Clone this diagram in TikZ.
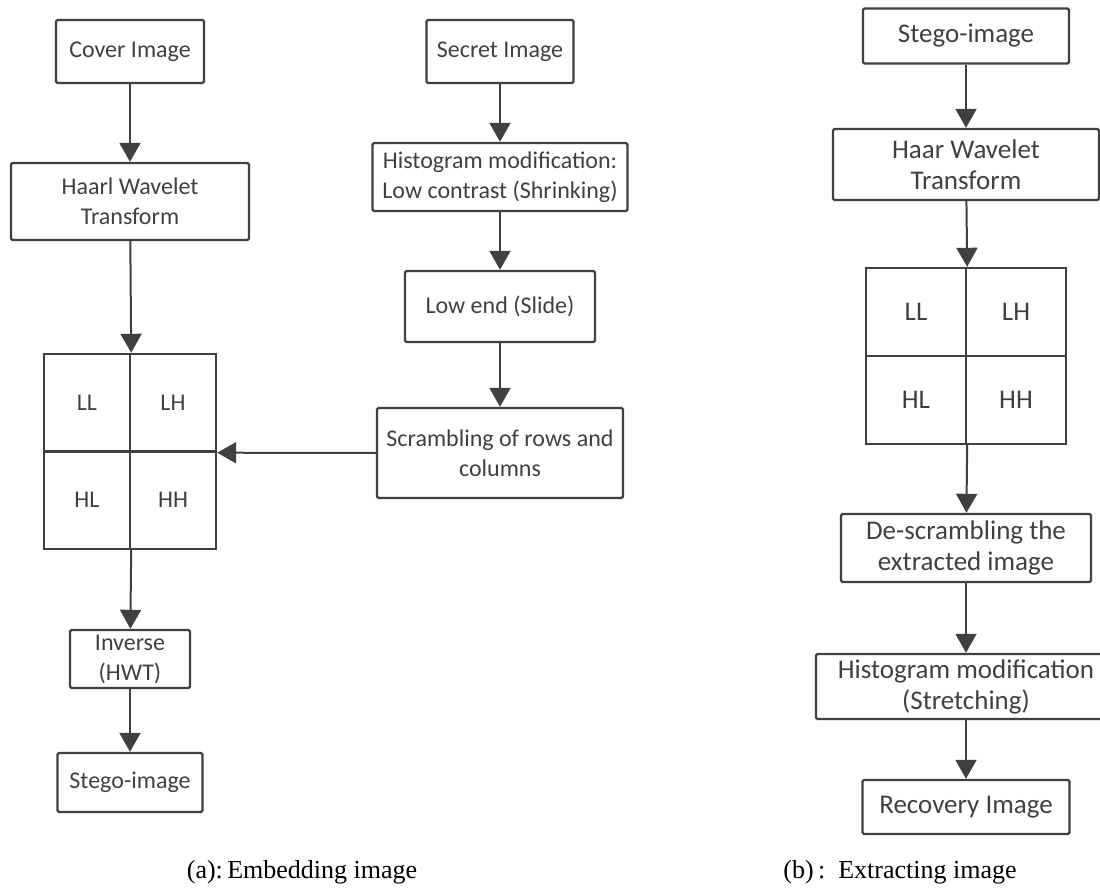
\documentclass[tikz,border=0pt]{standalone}
\usepackage{fontspec}
\setmainfont{Liberation Serif}
\newfontfamily\boxfont{Carlito}
\usetikzlibrary{arrows.meta}
\definecolor{ink}{HTML}{404040}
\tikzset{
	procbox/.style={draw=ink, line width=2.4pt, rounded corners=1.5pt, inner sep=0pt, align=center, text=ink, font=\boxfont\fontsize{24}{30}\selectfont},
	bigbox/.style={procbox, font=\boxfont\fontsize{27}{31}\selectfont},
	cella/.style={procbox, rounded corners=0pt, minimum width=86pt, minimum height=97.5pt},
	cellb/.style={bigbox, rounded corners=0pt, minimum width=100pt, minimum height=88pt},
	flow/.style={-{Triangle[length=19pt,width=21pt]}, draw=ink, line width=2pt},
	caption/.style={anchor=base, inner sep=0pt, font=\fontsize{26}{30}\selectfont}
}
\begin{document}
\begin{tikzpicture}[x=1pt, y=-1pt]
	\useasboundingbox (0,0) rectangle (1100,890);
	
	\node[procbox, minimum width=148pt, minimum height=63pt] (cover) at (130,51.5) {Cover Image};
	\node[procbox, minimum width=238pt, minimum height=77pt] (haarl) at (130,201.5) {Haarl Wavelet\\Transform};
	\node[cella] (all) at (87,402.75) {LL};
	\node[cella] (alh) at (173,402.75) {LH};
	\node[cella] (ahl) at (87,500.25) {HL};
	\node[cella] (ahh) at (173,500.25) {HH};
	\node[procbox, minimum width=120pt, minimum height=58pt] (inverse) at (130,659) {Inverse\\(HWT)};
	\node[procbox, minimum width=145pt, minimum height=59pt] (stegoa) at (130,782.5) {Stego-image};
	
	\node[procbox, minimum width=147pt, minimum height=63pt] (secret) at (500,51.5) {Secret Image};
	\node[procbox, minimum width=255pt, minimum height=68pt] (shrink) at (500,177) {Histogram modification:\\Low contrast (Shrinking)};
	\node[procbox, minimum width=190pt, minimum height=71pt] (slide) at (500,306.5) {Low end (Slide)};
	\node[procbox, minimum width=246pt, minimum height=90pt] (scramble) at (500,453) {Scrambling of rows and\\columns};
	
	\node[bigbox, minimum width=206pt, minimum height=55pt] (stegob) at (966,36) {Stego-image};
	\node[bigbox, minimum width=266pt, minimum height=71pt] (haar) at (966,164.5) {Haar Wavelet\\Transform};
	\node[cellb] (bll) at (916,312) {LL};
	\node[cellb] (blh) at (1016,312) {LH};
	\node[cellb] (bhl) at (916,400) {HL};
	\node[cellb] (bhh) at (1016,400) {HH};
	\node[bigbox, minimum width=250pt, minimum height=68pt] (descramble) at (966,548) {De-scrambling the\\extracted image};
	\node[bigbox, minimum width=300pt, minimum height=65pt] (stretch) at (966,686.5) {Histogram modification\\(Stretching)};
	\node[bigbox, minimum width=207pt, minimum height=54pt] (recovery) at (966,807) {Recovery Image};
	
	\draw[flow] (cover) -- (haarl);
	\draw[flow] (haarl) -- (all.north east);
	\draw[flow] (ahl.south east) -- (inverse);
	\draw[flow] (inverse) -- (stegoa);
	\draw[flow] (secret) -- (shrink);
	\draw[flow] (shrink) -- (slide);
	\draw[flow] (slide) -- (scramble);
	\draw[flow] (scramble.west) -- (alh.south east);
	
	\draw[flow] (stegob) -- (haar);
	\draw[flow] (haar) -- (bll.north east);
	\draw[flow] (bhl.south east) -- (descramble);
	\draw[flow] (descramble) -- (stretch);
	\draw[flow] (stretch) -- (recovery);
	
	\node[caption] (capa) at (302,878) {(a):\,Embedding image};
	\node[caption] (capb) at (900,878) {(b)\,:\ \ Extracting image};
\end{tikzpicture}
\end{document}
